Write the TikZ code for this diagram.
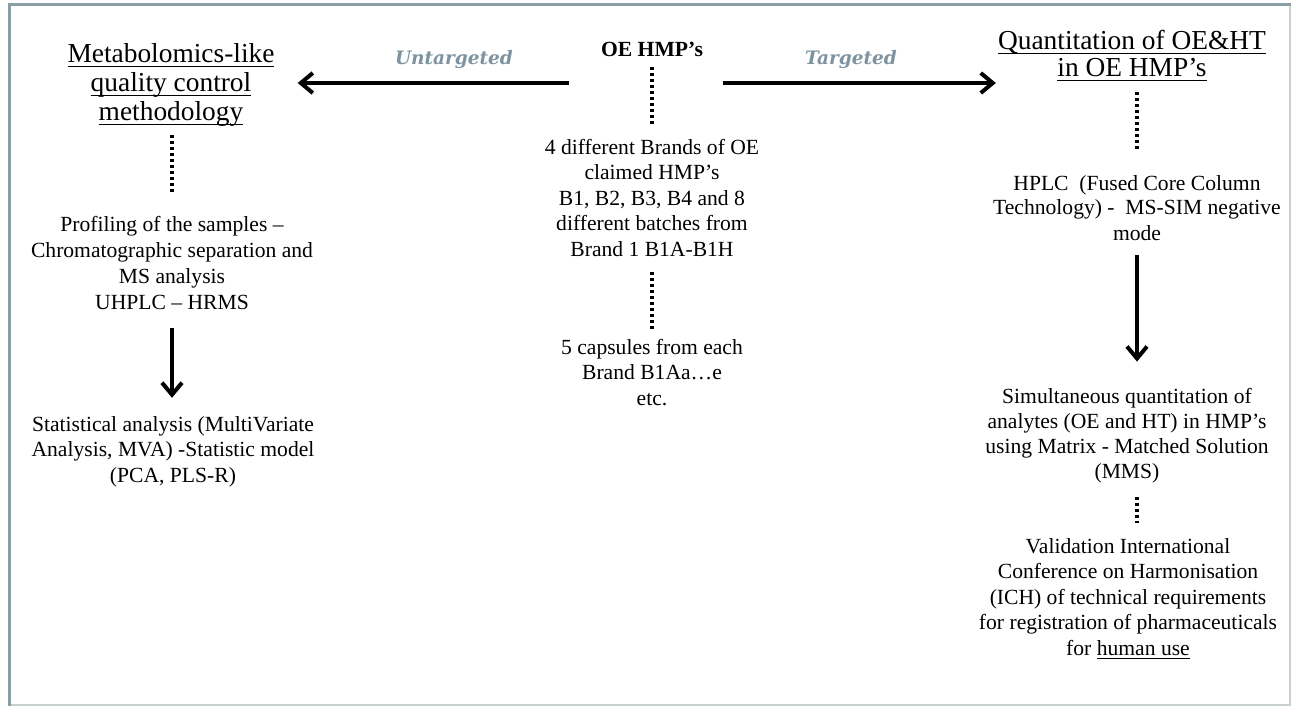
\documentclass[tikz,border=0pt]{standalone}
\usepackage{fontspec}
\setmainfont{Liberation Serif}
\newfontfamily\labfont{DejaVu Serif}
\usetikzlibrary{arrows.meta}
\definecolor{framedark}{RGB}{139,158,168}
\definecolor{framelight}{RGB}{200,208,210}
\definecolor{labgrey}{RGB}{125,148,160}
\newcommand\myul[1]{\leavevmode\setbox0\hbox{#1}\rlap{\rule[-4pt]{\wd0}{1.4pt}}\box0}
\tikzset{
  body/.style={align=center, inner sep=0pt, anchor=base, font=\fontsize{21.6}{25.5}\selectfont},
  title/.style={align=center, inner sep=0pt, anchor=base, font=\fontsize{27.4}{29}\selectfont},
  lab/.style={inner sep=0pt, anchor=base, text=labgrey, font=\labfont\bfseries\itshape\fontsize{18.5}{20}\selectfont},
  dotline/.style={line width=3.5pt, dash pattern=on 3pt off 3pt},
  bigarrow/.style={line width=4pt, -{Straight Barb[length=12pt,width=20pt,line width=4pt]}},
}
\begin{document}
\begin{tikzpicture}[x=1pt,y=-1pt]
\useasboundingbox (0,0) rectangle (1291,706);
% frame
\draw[framedark, line width=3pt] (9,706) -- (9,4.5) -- (1291,4.5);
\draw[framelight, line width=2pt] (11,704.5) -- (1289.5,704.5) -- (1289.5,6);
% nodes (anchored at the baseline of their last line)
\node[title] (t1) at (171,121) {\myul{Metabolomics-like}\\\myul{quality control}\\\myul{methodology}};
\node[title, font=\fontsize{27.4}{27}\selectfont] (t2) at (1132,77) {\myul{Quantitation of OE\&HT}\\\myul{in OE HMP’s}};
\node[body, font=\fontsize{21.6}{25.5}\selectfont\bfseries] (oe) at (652,57) {OE HMP’s};
\node[body] (c1) at (652,256) {4 different Brands of OE\\claimed HMP’s\\B1, B2, B3, B4 and 8\\different batches from\\Brand 1 B1A-B1H};
\node[body] (c2) at (652,405) {5 capsules from each\\Brand B1Aa…e\\etc.};
\node[body, font=\fontsize{21.6}{26}\selectfont] (l1) at (172,309) {Profiling of the samples –\\Chromatographic separation and\\MS analysis\\UHPLC – HRMS};
\node[body] (l2) at (173,482) {Statistical analysis (MultiVariate\\Analysis, MVA) -Statistic model\\(PCA, PLS-R)};
\node[body, font=\fontsize{21.6}{25}\selectfont] (r1) at (1137,240) {HPLC\ \ (Fused Core Column\\Technology) -\ \ MS-SIM negative\\mode};
\node[body, font=\fontsize{21.6}{25}\selectfont] (r2) at (1127,478) {Simultaneous quantitation of\\analytes (OE and HT) in HMP’s\\using Matrix - Matched Solution\\(MMS)};
\node[body] (r3) at (1128,655) {Validation International\\Conference on Harmonisation\\(ICH) of technical requirements\\for registration of pharmaceuticals\\for \myul{human use}};
\node[lab] (un) at (454,65) {Untargeted};
\node[lab] (ta) at (851,65) {Targeted};
% connectors
\coordinate (axis) at (0,83);
\draw[bigarrow] ([xshift=-32pt]oe.west |- axis) -- ([xshift=23pt]t1.east |- axis);
\draw[bigarrow] ([xshift=20pt]oe.east |- axis) -- ([xshift=-2pt]t2.west |- axis);
\draw[dotline, shorten <=8pt, shorten >=23pt] (t1.south -| l1.north) -- (l1.north);
\draw[bigarrow, shorten <=19pt, shorten >=18pt] (l1.south) -- (l1.south |- l2.north);
\draw[dotline, shorten <=10pt, shorten >=14pt] (oe.south) -- (c1.north);
\draw[dotline, shorten <=16pt, shorten >=9pt] (c1.south) -- (c2.north);
\draw[dotline, shorten <=11pt, shorten >=25pt] (t2.south -| r1.north) -- (r1.north);
\draw[bigarrow, shorten <=15pt, shorten >=26pt] (r1.south) -- (r1.south |- r2.north);
\draw[dotline, shorten <=14pt, shorten >=15pt] (r2.south -| r1.south) -- (r1.south |- r3.north);
\end{tikzpicture}
\end{document}
